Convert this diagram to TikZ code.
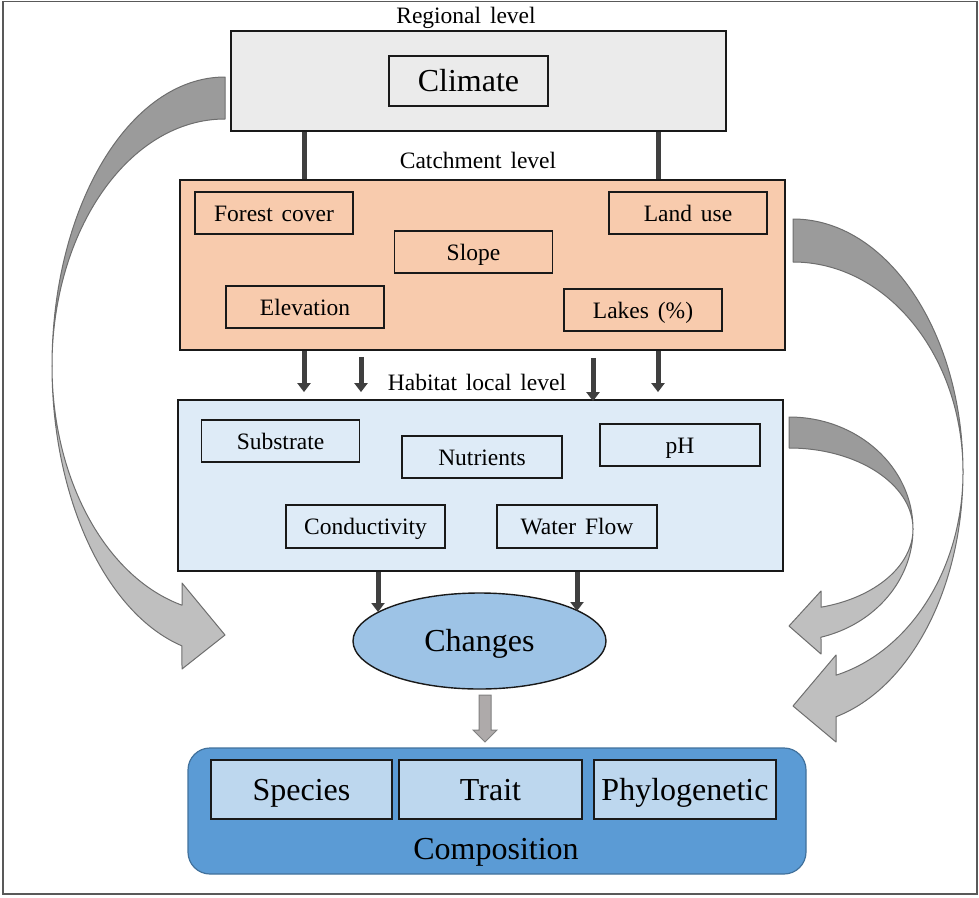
\documentclass[tikz,border=0pt]{standalone}
\usepackage{fontspec}
\setmainfont[WordSpace=1.5]{Liberation Serif}
\usetikzlibrary{arrows.meta,shapes.geometric,calc}
\definecolor{regfill}{HTML}{EBEBEB}
\definecolor{catfill}{HTML}{F8CBAD}
\definecolor{habfill}{HTML}{DEEBF7}
\definecolor{chgfill}{HTML}{9DC3E6}
\definecolor{compfill}{HTML}{5B9BD5}
\definecolor{compline}{HTML}{41719C}
\definecolor{innfill}{HTML}{BDD7EE}
\definecolor{darkarr}{HTML}{3F3F3F}
\definecolor{cdark}{HTML}{9B9B9B}
\definecolor{clight}{HTML}{BFBFBF}
\definecolor{cline}{HTML}{6E6E6E}
\definecolor{blockfill}{HTML}{AEAAAA}
\definecolor{framecol}{HTML}{595959}
\begin{document}
\begin{tikzpicture}[x=1pt,y=-1pt,
  small/.style={font=\fontsize{23.5}{28}\selectfont, text height=16pt, text depth=0pt},
  large/.style={font=\fontsize{32}{38}\selectfont, text height=21pt, text depth=0pt},
  bigbox/.style={draw=black!90, line width=1.8pt, inner sep=0pt},
  inbox/.style={draw=black!90, line width=1.4pt, inner sep=0pt, minimum width=158pt, minimum height=42pt, small},
  darr/.style={draw=darkarr, line width=5pt, -{Triangle[width=13pt,length=9pt]}},
  dline/.style={draw=darkarr, line width=5pt},
  cdk/.style={fill=cdark, draw=cline, line width=1pt, line join=round},
  clt/.style={fill=clight, draw=cline, line width=1pt, line join=round}
]
\useasboundingbox (0,0) rectangle (979,897);
\draw[framecol, line width=1.5pt] (3,1.5) rectangle (977,894);

% curved arrows
\path[cdk] (225,77) arc[start angle=270,end angle=180,x radius=173,y radius=289]
  arc[start angle=180,end angle=270,x radius=173,y radius=247] -- cycle;
\path[clt] (52,366) arc[start angle=180,end angle=104.4,x radius=173,y radius=289]
  -- (182,669) -- (225,635) -- (182,583) -- (182,605.2)
  arc[start angle=104.4,end angle=180,x radius=173,y radius=247] -- cycle;

\path[cdk] (793,219) arc[start angle=270,end angle=360,x radius=170,y radius=253]
  arc[start angle=0,end angle=-90,x radius=170,y radius=210] -- cycle;
\path[clt] (963,472) arc[start angle=0,end angle=75.35,x radius=170,y radius=253]
  -- (836,742) -- (793,706) -- (836,655) -- (836,675.2)
  arc[start angle=75.35,end angle=0,x radius=170,y radius=210] -- cycle;

\path[cdk] (789,417) arc[start angle=270,end angle=360,x radius=124,y radius=112]
  arc[start angle=0,end angle=-90,x radius=124,y radius=81] -- cycle;
\path[clt] (913,529) arc[start angle=0,end angle=75.05,x radius=124,y radius=112]
  -- (821,654) -- (789,626) -- (821,591) -- (821,607.2)
  arc[start angle=75.05,end angle=0,x radius=124,y radius=81] -- cycle;

% regional
\node[small] (reglbl) at (466,15) {Regional level};
\node[bigbox, fill=regfill, minimum width=495pt, minimum height=100pt] (reg) at (478.5,81) {};
\node[draw=black!90, line width=1.4pt, fill=regfill, minimum width=159pt, minimum height=50pt, inner sep=0pt, large] (clim) at (468.5,81) {Climate};

% catchment
\node[small] (catlbl) at (478,160) {Catchment level};
\node[bigbox, fill=catfill, minimum width=605pt, minimum height=170pt] (cat) at (482.5,265) {};
\node[inbox, fill=catfill] (forest) at (274,213) {Forest cover};
\node[inbox, fill=catfill] (land) at (688,213) {Land use};
\node[inbox, fill=catfill] (slope) at (473.5,252) {Slope};
\node[inbox, fill=catfill] (elev) at (305,307) {Elevation};
\node[inbox, fill=catfill] (lakes) at (643,310) {Lakes (\%)};

\draw[dline] (reg.south -| 304,0) -- (cat.north -| 304,0);
\draw[dline] (reg.south -| 658,0) -- (cat.north -| 658,0);

% habitat
\node[small] (hablbl) at (477,382) {Habitat local level};
\node[bigbox, fill=habfill, minimum width=605pt, minimum height=171pt] (hab) at (480.5,485.5) {};
\node[inbox, fill=habfill] (subs) at (280.5,441) {Substrate};
\node[inbox, fill=habfill, minimum width=160pt] (nutr) at (482,457) {Nutrients};
\node[inbox, fill=habfill, minimum width=160pt] (ph) at (680,445) {pH};
\node[inbox, fill=habfill, minimum width=159pt, minimum height=43pt] (cond) at (365.5,526.5) {Conductivity};
\node[inbox, fill=habfill, minimum width=160pt, minimum height=43pt] (flow) at (577,526.5) {Water Flow};

\draw[darr, shorten >=7pt] (cat.south -| 304,0) -- (hab.north -| 304,0);
\draw[darr, shorten <=6pt, shorten >=7pt] (cat.south -| 361,0) -- (hab.north -| 361,0);
\draw[darr, shorten <=7pt, shorten >=-2pt] (cat.south -| 593,0) -- (hab.north -| 593,0);
\draw[darr, shorten >=7pt] (cat.south -| 658,0) -- (hab.north -| 658,0);

% changes
\node[ellipse, draw=black!90, line width=1.4pt, fill=chgfill, minimum width=253pt, minimum height=96pt, inner sep=0pt, large] (chg) at (479.5,641) {Changes};
\coordinate (c1) at (378,612);
\coordinate (c2) at (577,611);
\draw[darr] (hab.south -| 378,0) -- (c1);
\draw[darr] (hab.south -| 577,0) -- (c2);

% composition
\node[draw=compline, line width=1.2pt, fill=compfill, rounded corners=22pt, minimum width=618pt, minimum height=126pt, inner sep=0pt] (comp) at (497,811) {};
\node[large] (complbl) at (496,849) {Composition};
\node[draw=black!90, line width=1.4pt, fill=innfill, minimum width=181pt, minimum height=59pt, inner sep=0pt, large] (spec) at (301.5,789.5) {Species};
\node[draw=black!90, line width=1.4pt, fill=innfill, minimum width=183pt, minimum height=59pt, inner sep=0pt, large] (trait) at (490.5,789.5) {Trait};
\node[draw=black!90, line width=1.4pt, fill=innfill, minimum width=182pt, minimum height=59pt, inner sep=0pt, large] (phylo) at (685,789.5) {Phylogenetic};

% block arrow changes -> composition
\path[fill=blockfill, draw=black!50, line width=1pt] (479,695) -- (491,695) -- (491,730) -- (497,730) -- (485,742) -- (473,730) -- (479,730) -- cycle;
\end{tikzpicture}
\end{document}
